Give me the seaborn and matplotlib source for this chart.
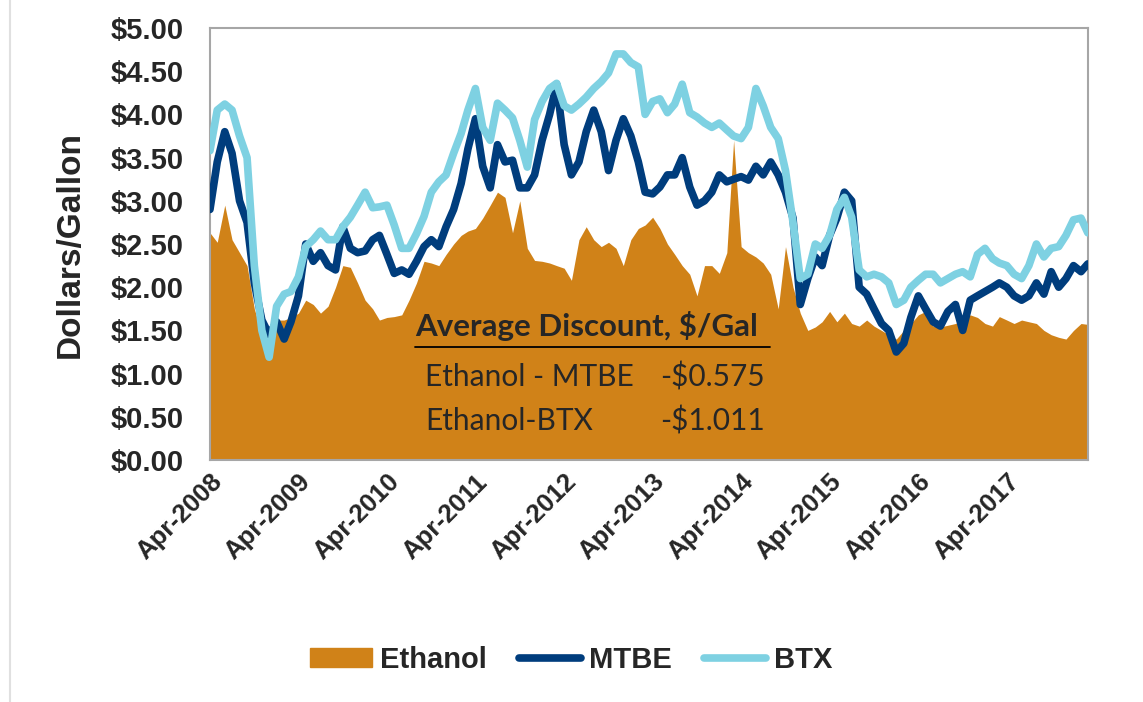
import numpy as np
import pandas as pd
import matplotlib
matplotlib.use("Agg")
import matplotlib.pyplot as plt
import matplotlib.dates as mdates
from matplotlib.patches import Patch
from matplotlib.lines import Line2D
import seaborn as sns

# monthly prices, $/gal, Apr-2008 .. Mar-2018
start_month = "2008-04-01"

ethanol = [2.63, 2.52, 2.95, 2.55, 2.40, 2.25, 1.75, 1.45, 1.25, 1.62,
           1.62, 1.65, 1.70, 1.85, 1.80, 1.70, 1.78, 2.00, 2.25, 2.23,
           2.05, 1.85, 1.75, 1.62, 1.65, 1.66, 1.68, 1.85, 2.05, 2.30,
           2.28, 2.25, 2.38, 2.50, 2.60, 2.65, 2.68, 2.80, 2.95, 3.10,
           3.04, 2.63, 3.00, 2.45, 2.31, 2.30, 2.28, 2.25, 2.22, 2.08,
           2.55, 2.70, 2.55, 2.47, 2.52, 2.45, 2.25, 2.55, 2.68, 2.72,
           2.81, 2.68, 2.50, 2.38, 2.25, 2.15, 1.90, 2.25, 2.25, 2.16,
           2.40, 3.70, 2.47, 2.40, 2.35, 2.28, 2.15, 1.75, 2.47, 2.00,
           1.70, 1.50, 1.54, 1.60, 1.72, 1.60, 1.70, 1.58, 1.55, 1.62,
           1.55, 1.50, 1.45, 1.40, 1.50, 1.58, 1.68, 1.72, 1.55, 1.54,
           1.56, 1.58, 1.62, 1.68, 1.65, 1.58, 1.55, 1.66, 1.62, 1.58,
           1.62, 1.60, 1.58, 1.50, 1.45, 1.42, 1.40, 1.50, 1.58, 1.57]

mtbe = [2.90, 3.45, 3.80, 3.55, 3.00, 2.75, 2.05, 1.62, 1.45, 1.60,
        1.40, 1.60, 1.90, 2.50, 2.30, 2.40, 2.25, 2.20, 2.70, 2.45,
        2.40, 2.42, 2.55, 2.60, 2.38, 2.16, 2.20, 2.15, 2.30, 2.47,
        2.55, 2.47, 2.70, 2.90, 3.20, 3.60, 3.95, 3.40, 3.15, 3.65,
        3.45, 3.47, 3.15, 3.15, 3.30, 3.70, 4.00, 4.35, 3.65, 3.30,
        3.45, 3.80, 4.05, 3.80, 3.35, 3.70, 3.95, 3.75, 3.45, 3.10,
        3.08, 3.16, 3.30, 3.30, 3.50, 3.16, 2.95, 3.00, 3.10, 3.30,
        3.22, 3.25, 3.28, 3.24, 3.40, 3.30, 3.45, 3.30, 3.10, 2.80,
        1.80, 2.10, 2.35, 2.25, 2.60, 2.80, 3.10, 3.00, 2.00, 1.92,
        1.75, 1.58, 1.50, 1.25, 1.35, 1.65, 1.90, 1.75, 1.60, 1.55,
        1.72, 1.80, 1.50, 1.85, 1.90, 1.95, 2.00, 2.05, 2.00, 1.90,
        1.85, 1.90, 2.05, 1.92, 2.18, 2.00, 2.10, 2.25, 2.18, 2.27]

btx = [3.58, 4.05, 4.12, 4.05, 3.75, 3.50, 2.25, 1.50, 1.19, 1.78,
       1.92, 1.95, 2.12, 2.47, 2.55, 2.65, 2.55, 2.55, 2.70, 2.81,
       2.95, 3.10, 2.92, 2.93, 2.95, 2.72, 2.45, 2.45, 2.62, 2.82,
       3.10, 3.22, 3.30, 3.55, 3.78, 4.05, 4.30, 3.85, 3.70, 4.13,
       4.05, 3.96, 3.70, 3.39, 3.94, 4.15, 4.30, 4.36, 4.10, 4.05,
       4.12, 4.20, 4.30, 4.38, 4.48, 4.70, 4.70, 4.60, 4.55, 4.00,
       4.15, 4.18, 4.02, 4.12, 4.35, 4.02, 3.97, 3.90, 3.85, 3.90,
       3.82, 3.75, 3.72, 3.85, 4.30, 4.10, 3.85, 3.72, 3.35, 2.75,
       2.10, 2.15, 2.50, 2.45, 2.60, 2.90, 3.04, 2.81, 2.20, 2.12,
       2.15, 2.12, 2.05, 1.80, 1.85, 2.00, 2.08, 2.15, 2.15, 2.05,
       2.10, 2.15, 2.18, 2.12, 2.38, 2.45, 2.33, 2.28, 2.25, 2.15,
       2.10, 2.25, 2.50, 2.35, 2.45, 2.47, 2.60, 2.78, 2.80, 2.63]

tick_years = list(range(2008, 2018))
discount_labels = ["Ethanol - MTBE", "Ethanol-BTX"]
discount_values = ["-$0.575", "-$1.011"]

ORANGE = "#D08218"
NAVY = "#003D7D"
CYAN = "#7ED1E2"
SPINE = "#A6A6A6"

sns.set_style("white")
plt.rcParams["font.family"] = ["Liberation Sans", "DejaVu Sans"]

dates = pd.date_range(start_month, periods=len(ethanol), freq="MS")
df = pd.DataFrame({"date": dates, "Ethanol": ethanol, "MTBE": mtbe, "BTX": btx})

fig = plt.figure(figsize=(11.43, 7.02), dpi=100)
ax = fig.add_axes([0.1837, 0.3447, 0.768, 0.6154])

ax.fill_between(df["date"], 0, df["Ethanol"], color=ORANGE, lw=0, zorder=2)
sns.lineplot(data=df, x="date", y="MTBE", color=NAVY, lw=5.5, ax=ax, zorder=3)
sns.lineplot(data=df, x="date", y="BTX", color=CYAN, lw=5.5, ax=ax, zorder=4)

ax.set_xlim(dates[0], dates[-1])
ax.set_ylim(0, 5)
ax.set_yticks(np.arange(0, 5.01, 0.5))
ax.yaxis.set_major_formatter(plt.FuncFormatter(lambda v, p: f"${v:.2f}"))
ax.set_xticks([pd.Timestamp(f"{y}-04-01") for y in tick_years])
ax.xaxis.set_major_formatter(mdates.DateFormatter("%b-%Y"))

for s in ax.spines.values():
    s.set_color(SPINE)
    s.set_linewidth(1.5)

ax.tick_params(axis="y", length=0, pad=19, labelsize=21)
ax.tick_params(axis="x", length=6, width=1.5, color="#D0D0D0", direction="out",
               pad=1, labelsize=18.5)
for lab in ax.get_yticklabels():
    lab.set_fontweight("bold")
for lab in ax.get_xticklabels():
    lab.set_fontweight("bold")
    lab.set_rotation(45)
    lab.set_ha("right")
    lab.set_rotation_mode("anchor")

ax.set_xlabel("")
ax.set_ylabel("Dollars/Gallon", fontsize=24, fontweight="bold")
ax.yaxis.set_label_coords(-0.141, 0.5)

# discount box
ax.text(0.2335, 0.275, "Average Discount, $/Gal", transform=ax.transAxes,
        family="Lato", fontsize=22.5, fontweight="bold", ha="left", va="bottom", zorder=6)
ax.plot([0.2335, 0.638], [0.2616, 0.2616], transform=ax.transAxes,
        color="black", lw=1.3, zorder=6)
for lbl, val, yy in zip(discount_labels, discount_values, [0.192, 0.09]):
    ax.text(0.245, yy, lbl, transform=ax.transAxes, family="Lato", fontsize=21.5,
            ha="left", va="center", zorder=6)
    ax.text(0.632, yy, val, transform=ax.transAxes, family="Lato", fontsize=21.5,
            ha="right", va="center", zorder=6)

handles = [Patch(facecolor=ORANGE, edgecolor=ORANGE),
           Line2D([0], [0], color=NAVY, lw=5.5, solid_capstyle="round"),
           Line2D([0], [0], color=CYAN, lw=5.5, solid_capstyle="round")]
fig.legend(handles, ["Ethanol", "MTBE", "BTX"], loc="center",
           bbox_to_anchor=(0.5, 0.06), ncol=3, frameon=False,
           prop={"weight": "bold", "size": 21}, handlelength=2.1,
           handleheight=0.6, handletextpad=0.3, columnspacing=1.1)

fig.add_artist(Line2D([10 / 1143, 10 / 1143], [0, 1], color="#E0E0E0", lw=1.5))

fig.savefig("out.png", dpi=100)
